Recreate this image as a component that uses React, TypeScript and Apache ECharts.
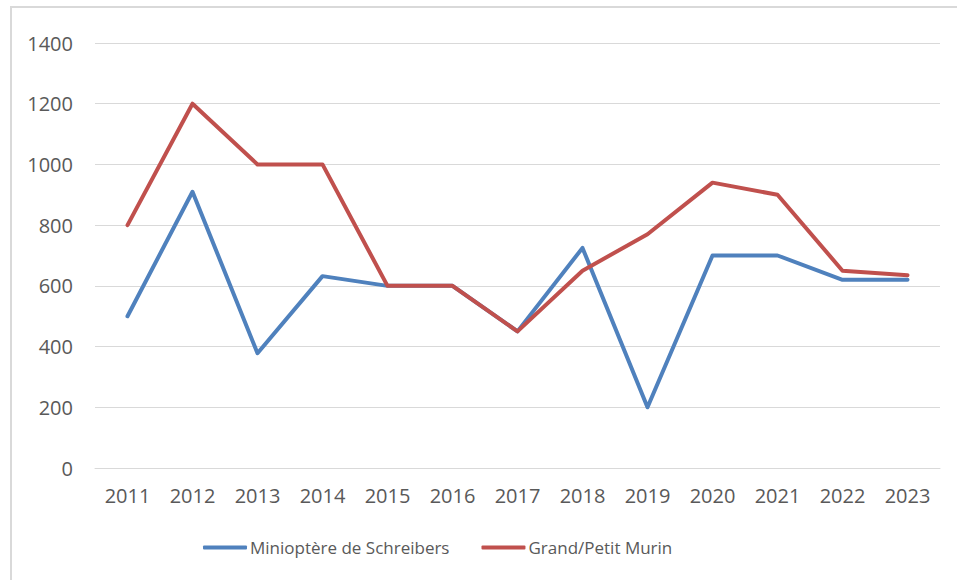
import React, { useEffect, useRef } from "react";
import * as echarts from "echarts";

const years = ["2011", "2012", "2013", "2014", "2015", "2016", "2017", "2018", "2019", "2020", "2021", "2022", "2023"];
const miniopteres = [500, 910, 378, 632, 600, 600, 450, 725, 200, 700, 700, 620, 620];
const murins = [800, 1200, 1000, 1000, 600, 600, 450, 650, 770, 940, 900, 650, 635];
const seriesNames = ["Minioptère de Schreibers", "Grand/Petit Murin"];

const FONT = "Open Sans";

export default function App() {
  const ref = useRef<HTMLDivElement>(null);
  useEffect(() => {
    if (!ref.current) return;
    const chart = echarts.init(ref.current, undefined, { renderer: "svg" });
    chart.setOption({
      animation: false,
      backgroundColor: "#ffffff",
      textStyle: { fontFamily: FONT },
      graphic: [
        {
          type: "rect",
          shape: { x: 11, y: 7, width: 1000, height: 700 },
          style: { fill: "none", stroke: "#d9d9d9", lineWidth: 2 },
          silent: true,
        },
      ],
      grid: { left: 95, right: 17, top: 43, bottom: 112, containLabel: false },
      legend: {
        top: 534,
        left: 198,
        itemWidth: 44,
        itemHeight: 4,
        itemGap: 32,
        icon: "roundRect",
        textStyle: { fontFamily: FONT, fontSize: 17, color: "#595959", padding: [0, 0, 0, -2] },
        data: seriesNames,
      },
      xAxis: {
        type: "category",
        data: years,
        boundaryGap: true,
        axisLine: { show: true, lineStyle: { color: "#d9d9d9", width: 1 } },
        axisTick: { show: false },
        axisLabel: { color: "#595959", fontSize: 20, fontFamily: FONT, margin: 17 },
      },
      yAxis: {
        type: "value",
        min: 0,
        max: 1400,
        interval: 200,
        axisLine: { show: false },
        axisTick: { show: false },
        axisLabel: {
          color: "#595959",
          fontSize: 20,
          fontFamily: FONT,
          margin: 22,
          formatter: (v: number) => String(v),
        },
        splitLine: { lineStyle: { color: "#d9d9d9", width: 1 } },
      },
      series: [
        {
          name: seriesNames[0],
          type: "line",
          data: miniopteres,
          symbol: "none",
          lineStyle: { color: "#4f81bd", width: 4, cap: "round", join: "round" },
          itemStyle: { color: "#4f81bd" },
        },
        {
          name: seriesNames[1],
          type: "line",
          data: murins,
          symbol: "none",
          lineStyle: { color: "#c0504d", width: 4, cap: "round", join: "round" },
          itemStyle: { color: "#c0504d" },
        },
      ],
    });
    return () => chart.dispose();
  }, []);
  return <div ref={ref} style={{ position: "fixed", left: 0, top: 0, width: 957, height: 580 }} />;
}
